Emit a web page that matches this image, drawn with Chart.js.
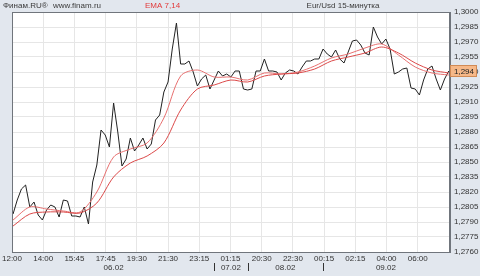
<!DOCTYPE html>
<html>
<head>
<meta charset="utf-8">
<script src="https://cdn.jsdelivr.net/npm/chart.js@4/dist/chart.umd.min.js"></script>
<style>
    html, body { margin: 0; padding: 0; background: #e2e7ee; }
    #caixa { width: 480px; height: 276px; }
</style>
</head>
<body>
<div id="caixa"><canvas id="grafico"></canvas></div>
<script>
// cotacoes de 15 minutos (indice da barra = posicao)
const precos = [
    1.2798, 1.2812, 1.2823, 1.2827, 1.2805, 1.2810, 1.2797, 1.2792, 1.2802, 1.2807,
    1.2805, 1.2795, 1.2812, 1.2811, 1.2796, 1.2796, 1.2795, 1.2805, 1.2788, 1.2830,
    1.2847, 1.2882, 1.2877, 1.2865, 1.2909, 1.2880, 1.2846, 1.2853, 1.2874, 1.2861,
    1.2867, 1.2874, 1.2863, 1.2868, 1.2892, 1.2897, 1.2920, 1.2930, 1.2963, 1.2989,
    1.2948, 1.2948, 1.2951, 1.2940, 1.2926, 1.2933, 1.2937, 1.2923, 1.2932, 1.2941,
    1.2936, 1.2938, 1.2935, 1.2941, 1.2941, 1.2923, 1.2922, 1.2923, 1.2941, 1.2941,
    1.2953, 1.2941, 1.2941, 1.2940, 1.2932, 1.2939, 1.2942, 1.2941, 1.2938, 1.2945,
    1.2951, 1.2951, 1.2953, 1.2953, 1.2963, 1.2958, 1.2955, 1.2962, 1.2953, 1.2949,
    1.2960, 1.2971, 1.2972, 1.2967, 1.2959, 1.2957, 1.2985, 1.2975, 1.2968, 1.2973,
    1.2963, 1.2938, 1.2940, 1.2943, 1.2944, 1.2924, 1.2923, 1.2917, 1.2932, 1.2943,
    1.2946, 1.2933, 1.2922, 1.2933, 1.2941
];

// medias moveis (a cada 4 barras)
const emaBarras = [0, 4, 8, 12, 16, 20, 24, 28, 32, 36, 40, 44, 48, 52, 56, 60, 64, 68, 72, 76, 80, 84, 88, 92, 96, 100, 104];
const ema7 = [
    1.2792, 1.2805, 1.2803, 1.2801, 1.2800, 1.2820, 1.2855, 1.2863, 1.2869, 1.2894,
    1.2936, 1.2942, 1.2935, 1.2935, 1.2932, 1.2939, 1.2938, 1.2940, 1.2946, 1.2954,
    1.2958, 1.2964, 1.2968, 1.2957, 1.2945, 1.2939, 1.2937
];
const ema14 = [
    1.2786, 1.2798, 1.2800, 1.2800, 1.2799, 1.2809, 1.2835, 1.2849, 1.2856, 1.2869,
    1.2902, 1.2923, 1.2927, 1.2932, 1.2930, 1.2936, 1.2938, 1.2939, 1.2943, 1.2951,
    1.2955, 1.2959, 1.2965, 1.2959, 1.2949, 1.2942, 1.2939
];

const horas = ['12:00', '14:00', '15:45', '17:45', '19:30', '21:30', '23:15', '01:15', '20:30', '22:30', '00:15', '02:15', '04:00', '06:00'];
const dias = ['06.02', '07.02', '08.02', '09.02'];
const inicioDias = [0, 48, 56, 74];

const yMin = 1.2760;
const yMax = 1.3000;
const yPasso = 0.0015;

const fonte = '"Liberation Sans", Arial, sans-serif';

const moldura = {
    id: 'moldura',
    beforeDraw(chart) {
        const ctx = chart.ctx;
        const a = chart.chartArea;
        ctx.save();
        ctx.fillStyle = '#ffffff';
        ctx.fillRect(a.left, a.top, a.right - a.left, a.bottom - a.top);
        ctx.restore();
    },
    afterDraw(chart) {
        const ctx = chart.ctx;
        const a = chart.chartArea;
        const x = chart.scales.x;
        const y = chart.scales.y;
        ctx.save();
        ctx.strokeStyle = '#70757c';
        ctx.lineWidth = 1;
        ctx.strokeRect(a.left + 0.5, a.top + 0.5, a.right - a.left - 1, a.bottom - a.top);

        // titulos
        ctx.font = '8px ' + fonte;
        ctx.textBaseline = 'middle';
        ctx.textAlign = 'left';
        ctx.fillStyle = '#3a3a3a';
        ctx.fillText('Финам.RU®', 3, 6);
        ctx.fillText('www.finam.ru', 53, 6);
        ctx.fillStyle = '#e23a3a';
        ctx.fillText('EMA 7,14', 145, 6);
        ctx.fillStyle = '#3a3a3a';
        ctx.textAlign = 'center';
        ctx.fillText('Eur/Usd 15-минутка', 343, 6);

        // dias
        ctx.fillStyle = '#333';
        for (let i = 0; i < dias.length; i++) {
            const ini = inicioDias[i];
            const fim = i + 1 < inicioDias.length ? inicioDias[i + 1] : precos.length - 1;
            const px = x.getPixelForValue((ini + fim) / 2);
            ctx.fillText(dias[i], px, 268);
            if (i > 0) {
                const bx = Math.round(x.getPixelForValue(ini)) + 0.5;
                ctx.beginPath();
                ctx.moveTo(bx, 263);
                ctx.lineTo(bx, 271);
                ctx.strokeStyle = '#333';
                ctx.stroke();
            }
        }

        // ultimo preco
        const ultimo = precos[precos.length - 1];
        const py = Math.round(y.getPixelForValue(ultimo));
        ctx.fillStyle = '#f6b888';
        ctx.strokeStyle = '#d08a55';
        ctx.fillRect(a.right, py - 6, 27, 12);
        ctx.strokeRect(a.right + 0.5, py - 5.5, 26, 11);
        ctx.fillStyle = '#222';
        ctx.textAlign = 'left';
        ctx.fillText(ultimo.toFixed(3).replace('.', ','), a.right + 4, py + 0.5);
        ctx.restore();
    }
};

const dados = {
    datasets: [
        {
            label: 'EMA 14',
            data: emaBarras.map((b, i) => ({ x: b, y: ema14[i] })),
            borderColor: '#dc4a4a',
            borderWidth: 1,
            pointRadius: 0,
            tension: 0.3
        },
        {
            label: 'EMA 7',
            data: emaBarras.map((b, i) => ({ x: b, y: ema7[i] })),
            borderColor: '#e87070',
            borderWidth: 1,
            pointRadius: 0,
            tension: 0.3
        },
        {
            label: 'Eur/Usd',
            data: precos.map((p, i) => ({ x: i, y: p })),
            borderColor: '#222222',
            borderWidth: 1,
            pointRadius: 0,
            tension: 0
        }
    ]
};

const config = {
    type: 'line',
    data: dados,
    options: {
        animation: false,
        responsive: true,
        maintainAspectRatio: false,
        layout: { padding: { left: 10, top: 12, right: 0, bottom: 0 } },
        plugins: {
            legend: { display: false },
            tooltip: { enabled: false }
        },
        scales: {
            x: {
                type: 'linear',
                min: -0.25,
                max: 104.3,
                afterBuildTicks: (s) => {
                    s.ticks = horas.map((h, i) => ({ value: i * 7.45 - 0.25 }));
                },
                afterFit: (s) => { s.height = 24; },
                grid: { color: '#e6e6e6', drawTicks: false },
                border: { color: '#70757c' },
                ticks: {
                    autoSkip: false,
                    maxRotation: 0,
                    padding: 2,
                    color: '#333',
                    font: { size: 8, family: fonte },
                    callback: (v, i) => horas[i]
                }
            },
            y: {
                position: 'right',
                min: yMin,
                max: yMax,
                afterBuildTicks: (s) => {
                    const t = [];
                    for (let k = 0; yMin + k * yPasso <= yMax + 1e-9; k++) {
                        t.push({ value: yMin + k * yPasso });
                    }
                    s.ticks = t;
                },
                afterFit: (s) => { s.width = 30; },
                grid: { color: '#e6e6e6', drawTicks: false },
                border: { color: '#70757c' },
                ticks: {
                    padding: 4,
                    color: '#333',
                    font: { size: 8, family: fonte },
                    callback: (v) => v.toFixed(4).replace('.', ',')
                }
            }
        }
    },
    plugins: [moldura]
};

const grafico = new Chart(document.getElementById('grafico'), config);
</script>
</body>
</html>
